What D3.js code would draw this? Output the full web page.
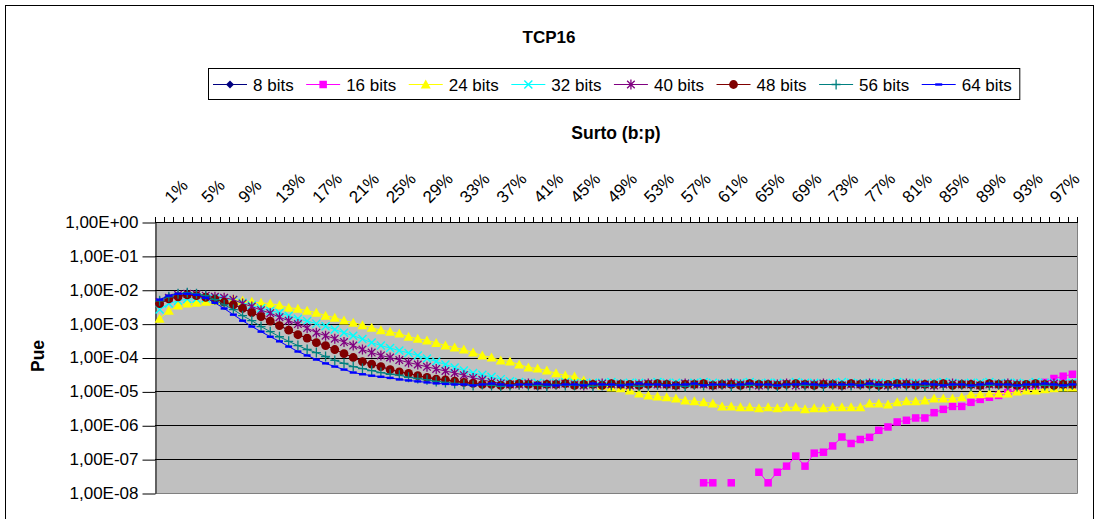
<!DOCTYPE html>
<html>
<head>
<meta charset="utf-8">
<script src="https://cdn.jsdelivr.net/npm/d3@7"></script>
<style>
  body { margin: 0; background: #fff; }
  text { font-family: "Liberation Sans", Arial, sans-serif; fill: #000; }
</style>
</head>
<body>
<svg></svg>
<script>
// categories on the x axis (burst size b:p)
var categories = ["1%","2%","3%","4%","5%","6%","7%","8%","9%","10%",
  "11%","12%","13%","14%","15%","16%","17%","18%","19%","20%",
  "21%","22%","23%","24%","25%","26%","27%","28%","29%","30%",
  "31%","32%","33%","34%","35%","36%","37%","38%","39%","40%",
  "41%","42%","43%","44%","45%","46%","47%","48%","49%","50%",
  "51%","52%","53%","54%","55%","56%","57%","58%","59%","60%",
  "61%","62%","63%","64%","65%","66%","67%","68%","69%","70%",
  "71%","72%","73%","74%","75%","76%","77%","78%","79%","80%",
  "81%","82%","83%","84%","85%","86%","87%","88%","89%","90%",
  "91%","92%","93%","94%","95%","96%","97%","98%","99%","100%"];

var xTickLabels = ["1%","5%","9%","13%","17%","21%","25%","29%","33%","37%","41%","45%","49%",
  "53%","57%","61%","65%","69%","73%","77%","81%","85%","89%","93%","97%"];

var yTickValues = [1, 1e-1, 1e-2, 1e-3, 1e-4, 1e-5, 1e-6, 1e-7, 1e-8];
var yTickLabels = ["1,00E+00","1,00E-01","1,00E-02","1,00E-03","1,00E-04","1,00E-05","1,00E-06","1,00E-07","1,00E-08"];

var seriesNames = ["8 bits","16 bits","24 bits","32 bits","40 bits","48 bits","56 bits","64 bits"];

// 8 bits is not visible in the picture: it lies under the 48 bits curve
var bits8 = [3.9e-3,5.4e-3,6.2e-3,7.1e-3,6.7e-3,6.0e-3,5.3e-3,4.3e-3,3.6e-3,2.8e-3,
  2.1e-3,1.6e-3,1.19e-3,8.7e-4,6.4e-4,4.7e-4,3.75e-4,2.76e-4,2.25e-4,1.72e-4,
  1.3e-4,1.0e-4,7.6e-5,6.4e-5,5.4e-5,4.4e-5,3.75e-5,3.4e-5,2.9e-5,2.6e-5,
  2.3e-5,2.2e-5,2.0e-5,1.84e-5,1.72e-5,1.6e-5,
  1.6e-5,1.5e-5,1.6e-5,1.7e-5,1.6e-5,1.5e-5,1.6e-5,1.6e-5,1.7e-5,1.5e-5,
  1.6e-5,1.6e-5,1.5e-5,1.7e-5,1.6e-5,1.6e-5,1.5e-5,1.6e-5,1.7e-5,1.6e-5,
  1.5e-5,1.6e-5,1.6e-5,1.7e-5,1.5e-5,1.6e-5,1.6e-5,1.5e-5,1.7e-5,1.6e-5,
  1.6e-5,1.5e-5,1.6e-5,1.7e-5,1.6e-5,1.5e-5,1.6e-5,1.6e-5,1.5e-5,1.7e-5,
  1.6e-5,1.6e-5,1.5e-5,1.6e-5,1.7e-5,1.6e-5,1.5e-5,1.6e-5,1.6e-5,1.7e-5,
  1.5e-5,1.6e-5,1.6e-5,1.5e-5,1.7e-5,1.6e-5,1.6e-5,1.5e-5,1.6e-5,1.7e-5,
  1.6e-5,1.5e-5,1.6e-5,1.6e-5];

var bits16 = [0,0,0,0,0,0,0,0,0,0,
  0,0,0,0,0,0,0,0,0,0,
  0,0,0,0,0,0,0,0,0,0,
  0,0,0,0,0,0,0,0,0,0,
  0,0,0,0,0,0,0,0,0,0,
  0,0,0,0,0,0,0,0,0,
  2.0e-8,2.0e-8,0,2.0e-8,0,0,4.1e-8,2.0e-8,4.1e-8,6.2e-8,1.23e-7,
  6.2e-8,1.5e-7,1.6e-7,2.45e-7,4.5e-7,2.9e-7,3.8e-7,4.4e-7,7.1e-7,8.9e-7,
  1.25e-6,1.4e-6,1.64e-6,1.64e-6,2.35e-6,2.95e-6,3.6e-6,3.6e-6,4.75e-6,5.8e-6,
  6.7e-6,7.6e-6,9.3e-6,1.07e-5,1.23e-5,1.4e-5,1.84e-5,2.4e-5,2.8e-5,3.2e-5];

var bits24 = [1.4e-3,2.4e-3,3.4e-3,3.9e-3,4.1e-3,4.4e-3,4.75e-3,5.1e-3,5.25e-3,4.75e-3,
  4.4e-3,4.1e-3,3.9e-3,3.5e-3,2.95e-3,2.76e-3,2.4e-3,2.1e-3,1.72e-3,1.5e-3,
  1.23e-3,1.07e-3,9.0e-4,7.6e-4,6.4e-4,5.8e-4,5.1e-4,4.1e-4,3.6e-4,3.2e-4,
  2.7e-4,2.25e-4,1.97e-4,1.72e-4,1.4e-4,1.14e-4,1.0e-4,8.2e-5,7.6e-5,6.2e-5,
  5.1e-5,4.75e-5,4.1e-5,3.4e-5,2.95e-5,2.76e-5,2.1e-5,1.72e-5,1.5e-5,1.31e-5,
  1.23e-5,1.07e-5,8.7e-6,7.6e-6,7.1e-6,6.7e-6,6.2e-6,5.4e-6,5.1e-6,4.75e-6,
  4.4e-6,3.6e-6,3.6e-6,3.4e-6,3.4e-6,3.2e-6,3.4e-6,3.2e-6,3.4e-6,3.4e-6,
  2.95e-6,3.2e-6,3.2e-6,3.4e-6,3.4e-6,3.4e-6,3.4e-6,4.4e-6,4.4e-6,4.1e-6,
  4.75e-6,5.1e-6,5.1e-6,5.4e-6,6.2e-6,6.2e-6,6.2e-6,6.7e-6,8.2e-6,8.2e-6,
  8.7e-6,8.7e-6,8.7e-6,1.0e-5,1.07e-5,1.07e-5,1.15e-5,1.23e-5,1.31e-5,1.31e-5];

var bits32 = [2.6e-3,3.9e-3,4.7e-3,5.3e-3,5.4e-3,5.6e-3,5.6e-3,5.4e-3,4.9e-3,4.1e-3,
  3.5e-3,2.86e-3,2.4e-3,2.1e-3,1.72e-3,1.4e-3,1.19e-3,1.0e-3,8.4e-4,6.7e-4,
  5.4e-4,4.4e-4,3.5e-4,2.76e-4,2.25e-4,1.9e-4,1.6e-4,1.36e-4,1.15e-4,9.3e-5,
  7.6e-5,6.2e-5,5.1e-5,4.1e-5,3.5e-5,3.1e-5,2.7e-5,2.3e-5,2.0e-5,1.9e-5,1.78e-5,
  1.8e-5,1.7e-5,1.8e-5,1.9e-5,1.8e-5,1.7e-5,1.8e-5,1.8e-5,1.9e-5,1.7e-5,
  1.8e-5,1.8e-5,1.7e-5,1.9e-5,1.8e-5,1.8e-5,1.7e-5,1.8e-5,1.9e-5,1.8e-5,
  1.7e-5,1.8e-5,1.8e-5,1.9e-5,1.7e-5,1.8e-5,1.8e-5,1.7e-5,1.9e-5,1.8e-5,
  1.8e-5,1.7e-5,1.8e-5,1.9e-5,1.8e-5,1.7e-5,1.8e-5,1.8e-5,1.7e-5,1.9e-5,
  1.8e-5,1.8e-5,1.7e-5,1.8e-5,1.9e-5,1.8e-5,1.7e-5,1.8e-5,1.8e-5,1.9e-5,
  1.7e-5,1.8e-5,1.8e-5,1.7e-5,1.9e-5,1.8e-5,1.8e-5,1.7e-5,1.8e-5];

var bits40 = [4.4e-3,5.8e-3,7.1e-3,7.6e-3,7.3e-3,6.7e-3,6.2e-3,5.8e-3,5.1e-3,3.9e-3,
  3.2e-3,2.5e-3,2.04e-3,1.55e-3,1.22e-3,9.7e-4,7.4e-4,5.4e-4,4.4e-4,3.6e-4,
  2.86e-4,2.25e-4,1.72e-4,1.4e-4,1.15e-4,1.0e-4,8.4e-5,7.1e-5,6.2e-5,5.3e-5,
  4.6e-5,4.0e-5,3.5e-5,3.0e-5,2.5e-5,2.2e-5,1.9e-5,1.72e-5,1.6e-5,
  1.6e-5,1.7e-5,1.5e-5,1.6e-5,1.6e-5,1.7e-5,1.6e-5,1.5e-5,1.6e-5,1.7e-5,
  1.6e-5,1.6e-5,1.5e-5,1.6e-5,1.7e-5,1.6e-5,1.6e-5,1.5e-5,1.7e-5,1.6e-5,
  1.6e-5,1.5e-5,1.6e-5,1.7e-5,1.6e-5,1.6e-5,1.5e-5,1.6e-5,1.6e-5,1.7e-5,
  1.5e-5,1.6e-5,1.6e-5,1.7e-5,1.6e-5,1.5e-5,1.6e-5,1.6e-5,1.7e-5,1.6e-5,
  1.5e-5,1.6e-5,1.7e-5,1.6e-5,1.6e-5,1.5e-5,1.6e-5,1.7e-5,1.6e-5,1.6e-5,
  1.5e-5,1.6e-5,1.6e-5,1.7e-5,1.6e-5,1.5e-5,1.6e-5,1.6e-5,1.7e-5,1.6e-5,
  1.6e-5];

var bits48 = [3.9e-3,5.4e-3,6.2e-3,7.1e-3,6.7e-3,6.0e-3,5.3e-3,4.3e-3,3.6e-3,2.8e-3,
  2.1e-3,1.6e-3,1.19e-3,8.7e-4,6.4e-4,4.7e-4,3.75e-4,2.76e-4,2.25e-4,1.72e-4,
  1.3e-4,1.0e-4,7.6e-5,6.4e-5,5.4e-5,4.4e-5,3.75e-5,3.4e-5,2.9e-5,2.6e-5,
  2.3e-5,2.2e-5,2.0e-5,1.84e-5,1.72e-5,1.6e-5,
  1.6e-5,1.5e-5,1.6e-5,1.7e-5,1.6e-5,1.5e-5,1.6e-5,1.6e-5,1.7e-5,1.5e-5,
  1.6e-5,1.6e-5,1.5e-5,1.7e-5,1.6e-5,1.6e-5,1.5e-5,1.6e-5,1.7e-5,1.6e-5,
  1.5e-5,1.6e-5,1.6e-5,1.7e-5,1.5e-5,1.6e-5,1.6e-5,1.5e-5,1.7e-5,1.6e-5,
  1.6e-5,1.5e-5,1.6e-5,1.7e-5,1.6e-5,1.5e-5,1.6e-5,1.6e-5,1.5e-5,1.7e-5,
  1.6e-5,1.6e-5,1.5e-5,1.6e-5,1.7e-5,1.6e-5,1.5e-5,1.6e-5,1.6e-5,1.7e-5,
  1.5e-5,1.6e-5,1.6e-5,1.5e-5,1.7e-5,1.6e-5,1.6e-5,1.5e-5,1.6e-5,1.7e-5,
  1.6e-5,1.5e-5,1.6e-5,1.6e-5];

var bits56 = [4.7e-3,6.2e-3,7.6e-3,8.2e-3,7.6e-3,6.7e-3,5.1e-3,3.6e-3,2.6e-3,1.72e-3,
  1.22e-3,8.2e-4,5.8e-4,4.1e-4,3.0e-4,2.25e-4,1.72e-4,1.4e-4,1.07e-4,8.2e-5,
  6.7e-5,5.4e-5,4.7e-5,4.1e-5,3.6e-5,3.2e-5,3.0e-5,2.6e-5,2.4e-5,2.2e-5,
  1.97e-5,1.84e-5,1.72e-5,1.6e-5,
  1.5e-5,1.6e-5,1.5e-5,1.4e-5,1.5e-5,1.6e-5,1.5e-5,1.5e-5,1.4e-5,1.6e-5,
  1.5e-5,1.5e-5,1.6e-5,1.4e-5,1.5e-5,1.5e-5,1.6e-5,1.5e-5,1.4e-5,1.5e-5,
  1.6e-5,1.5e-5,1.5e-5,1.4e-5,1.6e-5,1.5e-5,1.5e-5,1.6e-5,1.4e-5,1.5e-5,
  1.5e-5,1.6e-5,1.5e-5,1.4e-5,1.5e-5,1.6e-5,1.5e-5,1.5e-5,1.4e-5,1.6e-5,
  1.5e-5,1.5e-5,1.6e-5,1.5e-5,1.4e-5,1.5e-5,1.6e-5,1.5e-5,1.5e-5,1.4e-5,
  1.6e-5,1.5e-5,1.5e-5,1.6e-5,1.4e-5,1.5e-5,1.5e-5,1.6e-5,1.5e-5,1.4e-5,
  1.5e-5,1.6e-5,1.5e-5,1.5e-5,1.4e-5,1.6e-5];

var bits64 = [5.1e-3,6.7e-3,7.6e-3,7.6e-3,7.1e-3,5.8e-3,4.1e-3,2.8e-3,1.84e-3,1.22e-3,
  8.2e-4,5.8e-4,4.1e-4,3.0e-4,2.1e-4,1.5e-4,1.15e-4,8.7e-5,6.7e-5,5.4e-5,
  4.4e-5,3.6e-5,3.2e-5,2.9e-5,2.7e-5,2.5e-5,2.25e-5,2.1e-5,1.97e-5,1.84e-5,
  1.72e-5,1.66e-5,
  1.6e-5,1.6e-5,1.5e-5,1.6e-5,1.7e-5,1.6e-5,1.5e-5,1.6e-5,1.6e-5,1.7e-5,
  1.6e-5,1.5e-5,1.6e-5,1.6e-5,1.5e-5,1.7e-5,1.6e-5,1.6e-5,1.5e-5,1.6e-5,
  1.7e-5,1.6e-5,1.6e-5,1.5e-5,1.6e-5,1.6e-5,1.7e-5,1.5e-5,1.6e-5,1.6e-5,
  1.5e-5,1.6e-5,1.7e-5,1.6e-5,1.6e-5,1.5e-5,1.6e-5,1.6e-5,1.7e-5,1.6e-5,
  1.5e-5,1.6e-5,1.6e-5,1.6e-5,1.5e-5,1.7e-5,1.6e-5,1.6e-5,1.5e-5,1.6e-5,
  1.6e-5,1.7e-5,1.6e-5,1.5e-5,1.6e-5,1.6e-5,1.5e-5,1.6e-5,1.7e-5,1.6e-5,
  1.6e-5,1.5e-5,1.6e-5,1.6e-5,1.7e-5,1.6e-5,1.5e-5,1.6e-5];

var seriesData = [bits8, bits16, bits24, bits32, bits40, bits48, bits56, bits64];

seriesData.forEach(function(s, k) {
  if (s.length !== categories.length) throw new Error(seriesNames[k] + ' has ' + s.length + ' values');
});

// Excel-like series styles
var styles = [
  {color: '#000080', marker: 'diamond'},
  {color: '#ff00ff', marker: 'square'},
  {color: '#ffff00', marker: 'triangle'},
  {color: '#00ffff', marker: 'x'},
  {color: '#800080', marker: 'star'},
  {color: '#800000', marker: 'circle'},
  {color: '#008080', marker: 'plus'},
  {color: '#0000ff', marker: 'dash'}
];

var width = 1099, height = 519,
  plotLeft = 155, plotRight = 1077, plotTop = 222, plotBottom = 493,
  fontSize = 17;

var svg = d3.select('svg')
  .attr('width', width)
  .attr('height', height);

// chart area
svg.append('rect')
  .attr('x', 5.5).attr('y', 5.5)
  .attr('width', 1088).attr('height', 540)
  .attr('fill', '#fff').attr('stroke', '#000');

var x = d3.scaleBand().domain(categories).range([plotLeft, plotRight]);
var cx = c => x(c) + x.bandwidth() / 2;
var y = d3.scaleLog().domain([1e-8, 1]).range([plotBottom, plotTop]);

// plot area
svg.append('rect')
  .attr('x', plotLeft).attr('y', plotTop)
  .attr('width', plotRight - plotLeft).attr('height', plotBottom - plotTop)
  .attr('fill', '#c0c0c0');

svg.append('g').selectAll('line')
  .data(yTickValues.slice(1, -1))
  .join('line')
  .attr('x1', plotLeft).attr('x2', plotRight)
  .attr('y1', d => Math.round(y(d)) + 0.5).attr('y2', d => Math.round(y(d)) + 0.5)
  .attr('stroke', '#000');

// right and bottom border of plot area
svg.append('path')
  .attr('d', 'M' + (plotRight + 0.5) + ',' + plotTop + 'V' + (plotBottom + 0.5) + 'H' + plotLeft)
  .attr('fill', 'none').attr('stroke', '#808080');

// y axis
var yAxis = svg.append('g')
  .attr('transform', 'translate(' + (plotLeft + 0.5) + ',0)')
  .call(d3.axisLeft(y)
    .tickValues(yTickValues)
    .tickFormat((d, i) => yTickLabels[i])
    .tickSize(13).tickSizeOuter(0).tickPadding(4));
yAxis.selectAll('line, path').attr('stroke', '#000');
yAxis.selectAll('.tick line').attr('transform', 'translate(0,0.5)');
yAxis.selectAll('text').attr('font-size', fontSize).attr('font-family', null).attr('fill', '#000');

// x axis on top: ticks at category boundaries, labels every 4 categories
var xg = svg.append('g');
xg.append('line')
  .attr('x1', plotLeft).attr('x2', plotRight + 1)
  .attr('y1', plotTop + 0.5).attr('y2', plotTop + 0.5)
  .attr('stroke', '#000');
xg.selectAll('.minor')
  .data(categories.concat(['end']))
  .join('line')
  .attr('class', 'minor')
  .attr('x1', d => Math.round(d === 'end' ? plotRight : x(d)) + 0.5)
  .attr('x2', d => Math.round(d === 'end' ? plotRight : x(d)) + 0.5)
  .attr('y1', plotTop - 5).attr('y2', plotTop)
  .attr('stroke', '#000');
xg.selectAll('text')
  .data(xTickLabels)
  .join('text')
  .attr('transform', d => 'translate(' + [cx(d) + 12, 204] + ') rotate(-45)')
  .attr('font-size', fontSize)
  .text(d => d);

// titles
svg.append('text')
  .attr('x', 549).attr('y', 43)
  .attr('text-anchor', 'middle')
  .attr('font-size', fontSize).attr('font-weight', 'bold')
  .text('TCP16');

svg.append('text')
  .attr('x', (plotLeft + plotRight) / 2).attr('y', 139)
  .attr('text-anchor', 'middle')
  .attr('font-size', fontSize + 0.5).attr('font-weight', 'bold')
  .text('Surto (b:p)');

svg.append('text')
  .attr('transform', 'translate(44,356) rotate(-90)')
  .attr('text-anchor', 'middle')
  .attr('font-size', fontSize + 0.5).attr('font-weight', 'bold')
  .text('Pue');

function drawMarker(g, type, color) {
  if (type === 'diamond') {
    g.append('path').attr('d', 'M0,-4L4,0L0,4L-4,0Z').attr('fill', color);
  } else if (type === 'square') {
    g.append('rect').attr('x', -3.75).attr('y', -3.75).attr('width', 7.5).attr('height', 7.5).attr('fill', color);
  } else if (type === 'triangle') {
    g.append('path').attr('d', 'M0,-5L5,4L-5,4Z').attr('fill', color);
  } else if (type === 'x') {
    g.append('path').attr('d', 'M-4,-4L4,4M-4,4L4,-4')
      .attr('stroke', color).attr('stroke-width', 1.4).attr('fill', 'none');
  } else if (type === 'star') {
    g.append('path').attr('d', 'M-3.8,-3.8L3.8,3.8M-3.8,3.8L3.8,-3.8M0,-5L0,5')
      .attr('stroke', color).attr('stroke-width', 1.3).attr('fill', 'none');
  } else if (type === 'circle') {
    g.append('circle').attr('r', 4.4).attr('fill', color);
  } else if (type === 'plus') {
    g.append('path').attr('d', 'M-4.5,0L4.5,0M0,-5L0,5')
      .attr('stroke', color).attr('stroke-width', 1.3).attr('fill', 'none');
  } else if (type === 'dash') {
    g.append('rect').attr('x', -3.5).attr('y', -1.2).attr('width', 7).attr('height', 2.4).attr('fill', color);
  }
}

// series
var line = d3.line()
  .defined(d => d.v > 0)
  .x(d => cx(d.c))
  .y(d => y(d.v));

var seriesG = svg.append('g');
seriesData.forEach(function(vals, k) {
  var st = styles[k];
  var pts = vals.map((v, i) => ({c: categories[i], v: v}));
  var g = seriesG.append('g');
  g.append('path')
    .datum(pts)
    .attr('d', line)
    .attr('fill', 'none')
    .attr('stroke', st.color)
    .attr('stroke-width', 1);
  g.selectAll('.pt')
    .data(pts.filter(d => d.v > 0))
    .join('g')
    .attr('class', 'pt')
    .attr('transform', d => 'translate(' + [cx(d.c), y(d.v)] + ')')
    .each(function() { drawMarker(d3.select(this), st.marker, st.color); });
});

// legend
var legend = svg.append('g');
var box = legend.append('rect')
  .attr('x', 208.5).attr('y', 68.5).attr('height', 31)
  .attr('fill', '#fff').attr('stroke', '#000');
var lx = 213;
seriesNames.forEach(function(name, k) {
  var st = styles[k];
  var item = legend.append('g');
  item.append('line')
    .attr('x1', lx).attr('x2', lx + 34)
    .attr('y1', 84.5).attr('y2', 84.5)
    .attr('stroke', st.color);
  drawMarker(item.append('g').attr('transform', 'translate(' + [lx + 17, 84.5] + ')'), st.marker, st.color);
  var t = item.append('text')
    .attr('x', lx + 40).attr('y', 90.5)
    .attr('font-size', fontSize)
    .text(name);
  lx = lx + 40 + t.node().getComputedTextLength() + 12.5;
});
box.attr('width', lx - 12.5 + 8 - 208.5);
</script>
</body>
</html>
